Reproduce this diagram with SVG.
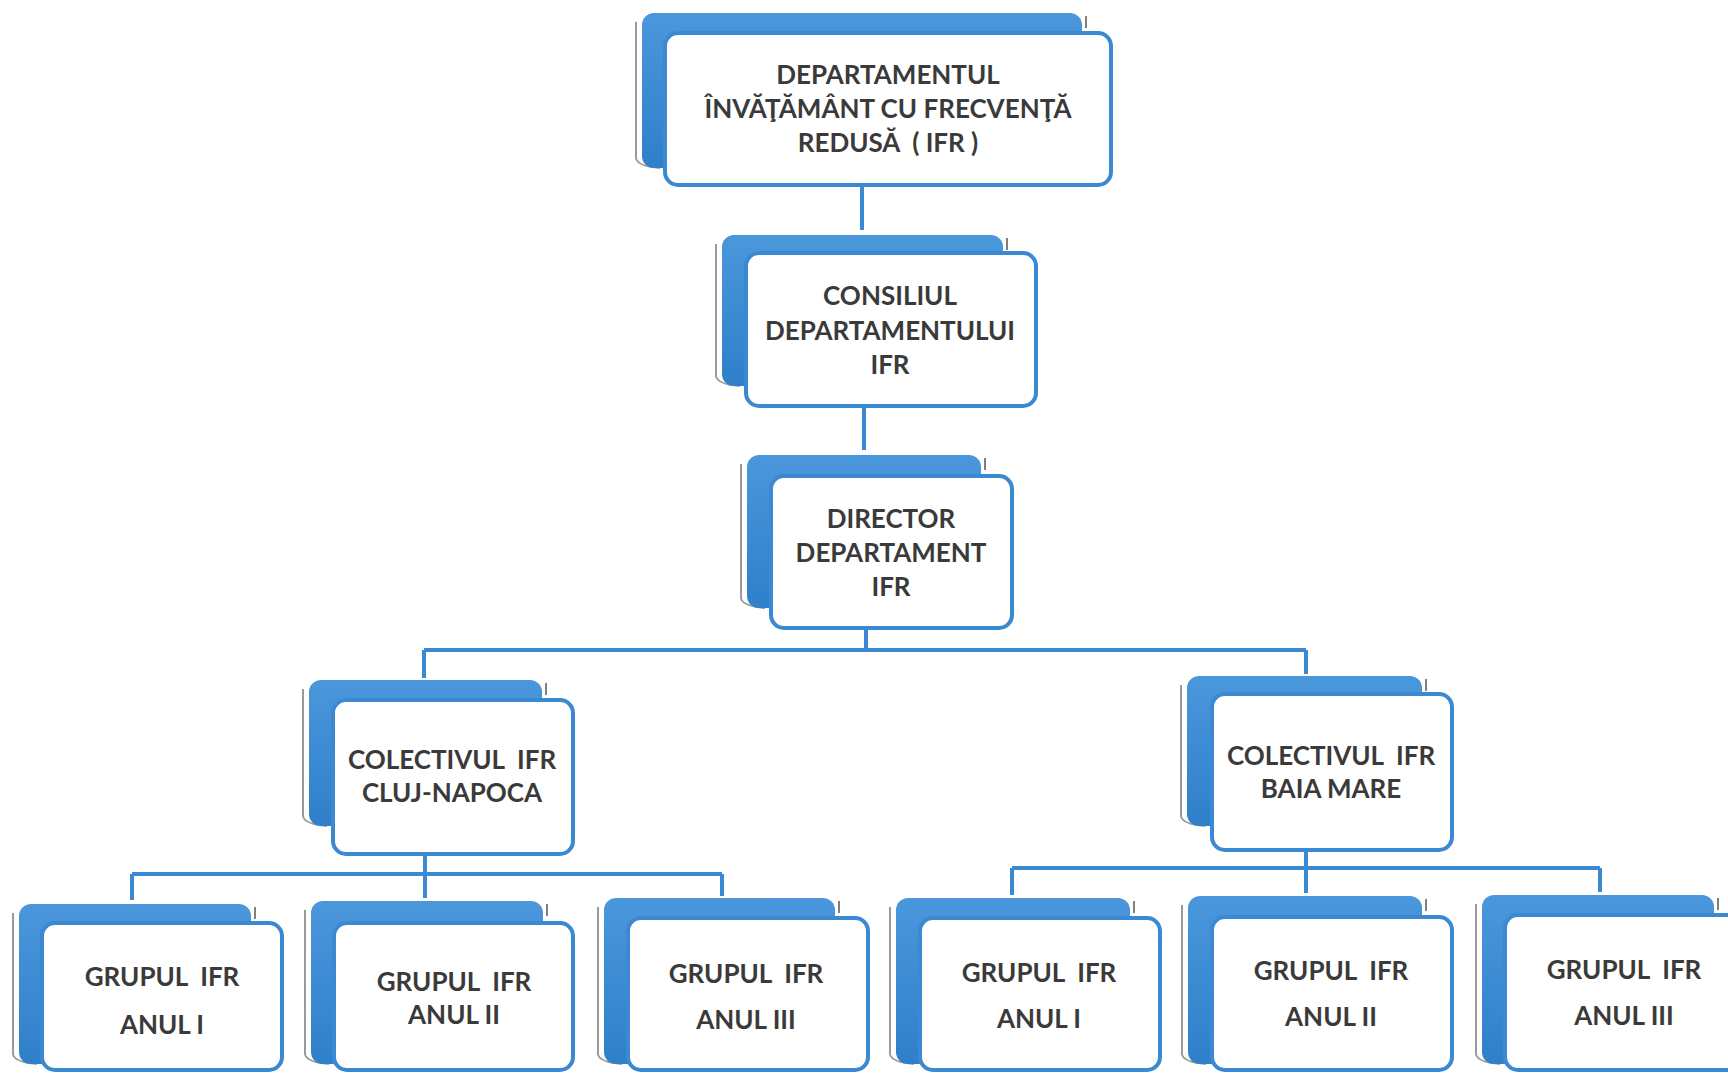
<svg xmlns="http://www.w3.org/2000/svg" width="1728" height="1073" viewBox="0 0 1728 1073">
<defs>
<linearGradient id="bg" x1="0" y1="0" x2="0" y2="1">
<stop offset="0" stop-color="#4b97dc"/>
<stop offset="1" stop-color="#2f7fc9"/>
</linearGradient>
</defs>
<style>
.back{fill:url(#bg);}
.curl{fill:none;stroke:#9a9a9a;stroke-width:2;}
.tick{stroke:#555;stroke-width:1.5;}
.front{fill:#ffffff;stroke:#3c89d3;stroke-width:4;}
.lbl{font-family:Lato,"Liberation Sans",sans-serif;font-weight:bold;font-size:26px;fill:#3a3a3a;text-anchor:middle;white-space:pre;}
.conn{fill:none;stroke:#3c89d3;stroke-width:4;}
</style>
<rect width="1728" height="1073" fill="#ffffff"/>
<g id="connectors">
<path class="conn" d="M862 185 V230"/>
<path class="conn" d="M864 406 V450"/>
<path class="conn" d="M866 628 V650 M424 650 H1306 M424 650 V678 M1306 650 V674"/>
<path class="conn" d="M425 854 V874 M132 874 H722 M132 874 V900 M425 874 V898 M722 874 V896"/>
<path class="conn" d="M1306 850 V868 M1012 868 H1600 M1012 868 V895 M1306 868 V893 M1600 868 V892"/>
</g>
<g id="n1">
<path class="curl" d="M636 22 V158 Q637 166 660 168"/>
<rect class="back" x="642" y="13" width="440" height="155" rx="12"/>
<line class="tick" x1="1086" y1="16" x2="1086" y2="28"/>
<rect class="front" x="665" y="33" width="446" height="152" rx="13"/>
<text class="lbl" x="888" y="84">DEPARTAMENTUL</text>
<text class="lbl" x="888" y="118">ÎNVĂŢĂMÂNT CU FRECVENŢĂ</text>
<text class="lbl" x="888" y="152">REDUSĂ  ( IFR )</text>
</g>
<g id="n2">
<path class="curl" d="M716 244 V376 Q717 384 740 386"/>
<rect class="back" x="722" y="235" width="281" height="151" rx="12"/>
<line class="tick" x1="1007" y1="238" x2="1007" y2="250"/>
<rect class="front" x="746" y="253" width="290" height="153" rx="13"/>
<text class="lbl" x="890" y="305">CONSILIUL</text>
<text class="lbl" x="890" y="340">DEPARTAMENTULUI</text>
<text class="lbl" x="890" y="374">IFR</text>
</g>
<g id="n3">
<path class="curl" d="M741 464 V598 Q742 606 765 608"/>
<rect class="back" x="747" y="455" width="234" height="153" rx="12"/>
<line class="tick" x1="985" y1="458" x2="985" y2="470"/>
<rect class="front" x="771" y="476" width="241" height="152" rx="13"/>
<text class="lbl" x="891" y="528">DIRECTOR</text>
<text class="lbl" x="891" y="562">DEPARTAMENT</text>
<text class="lbl" x="891" y="596">IFR</text>
</g>
<g id="cluj">
<path class="curl" d="M303 689 V816 Q304 824 327 826"/>
<rect class="back" x="309" y="680" width="233" height="146" rx="12"/>
<line class="tick" x1="546" y1="683" x2="546" y2="695"/>
<rect class="front" x="333" y="700" width="240" height="154" rx="13"/>
<text class="lbl" x="452" y="769">COLECTIVUL  IFR</text>
<text class="lbl" x="452" y="802">CLUJ-NAPOCA</text>
</g>
<g id="baia">
<path class="curl" d="M1181 685 V816 Q1182 824 1205 826"/>
<rect class="back" x="1187" y="676" width="235" height="150" rx="12"/>
<line class="tick" x1="1426" y1="679" x2="1426" y2="691"/>
<rect class="front" x="1212" y="694" width="240" height="156" rx="13"/>
<text class="lbl" x="1331" y="765">COLECTIVUL  IFR</text>
<text class="lbl" x="1331" y="798">BAIA MARE</text>
</g>
<g id="g1">
<path class="curl" d="M13 913 V1054 Q14 1062 37 1064"/>
<rect class="back" x="19" y="904" width="232" height="160" rx="12"/>
<line class="tick" x1="255" y1="907" x2="255" y2="919"/>
<rect class="front" x="42" y="923" width="240" height="147" rx="13"/>
<text class="lbl" x="162" y="986">GRUPUL  IFR</text>
<text class="lbl" x="162" y="1034">ANUL I</text>
</g>
<g id="g2">
<path class="curl" d="M305 910 V1054 Q306 1062 329 1064"/>
<rect class="back" x="311" y="901" width="232" height="163" rx="12"/>
<line class="tick" x1="547" y1="904" x2="547" y2="916"/>
<rect class="front" x="334" y="923" width="239" height="147" rx="13"/>
<text class="lbl" x="454" y="991">GRUPUL  IFR</text>
<text class="lbl" x="454" y="1024">ANUL II</text>
</g>
<g id="g3">
<path class="curl" d="M598 907 V1054 Q599 1062 622 1064"/>
<rect class="back" x="604" y="898" width="231" height="166" rx="12"/>
<line class="tick" x1="839" y1="901" x2="839" y2="913"/>
<rect class="front" x="628" y="918" width="240" height="152" rx="13"/>
<text class="lbl" x="746" y="983">GRUPUL  IFR</text>
<text class="lbl" x="746" y="1029">ANUL III</text>
</g>
<g id="g4">
<path class="curl" d="M890 907 V1054 Q891 1062 914 1064"/>
<rect class="back" x="896" y="898" width="234" height="166" rx="12"/>
<line class="tick" x1="1134" y1="901" x2="1134" y2="913"/>
<rect class="front" x="920" y="918" width="240" height="152" rx="13"/>
<text class="lbl" x="1039" y="982">GRUPUL  IFR</text>
<text class="lbl" x="1039" y="1028">ANUL I</text>
</g>
<g id="g5">
<path class="curl" d="M1182 905 V1054 Q1183 1062 1206 1064"/>
<rect class="back" x="1188" y="896" width="234" height="168" rx="12"/>
<line class="tick" x1="1426" y1="899" x2="1426" y2="911"/>
<rect class="front" x="1212" y="917" width="240" height="153" rx="13"/>
<text class="lbl" x="1331" y="980">GRUPUL  IFR</text>
<text class="lbl" x="1331" y="1026">ANUL II</text>
</g>
<g id="g6">
<path class="curl" d="M1476 904 V1054 Q1477 1062 1500 1064"/>
<rect class="back" x="1482" y="895" width="232" height="169" rx="12"/>
<line class="tick" x1="1718" y1="898" x2="1718" y2="910"/>
<rect class="front" x="1505" y="915" width="240" height="155" rx="13"/>
<text class="lbl" x="1624" y="979">GRUPUL  IFR</text>
<text class="lbl" x="1624" y="1025">ANUL III</text>
</g>
</svg>
